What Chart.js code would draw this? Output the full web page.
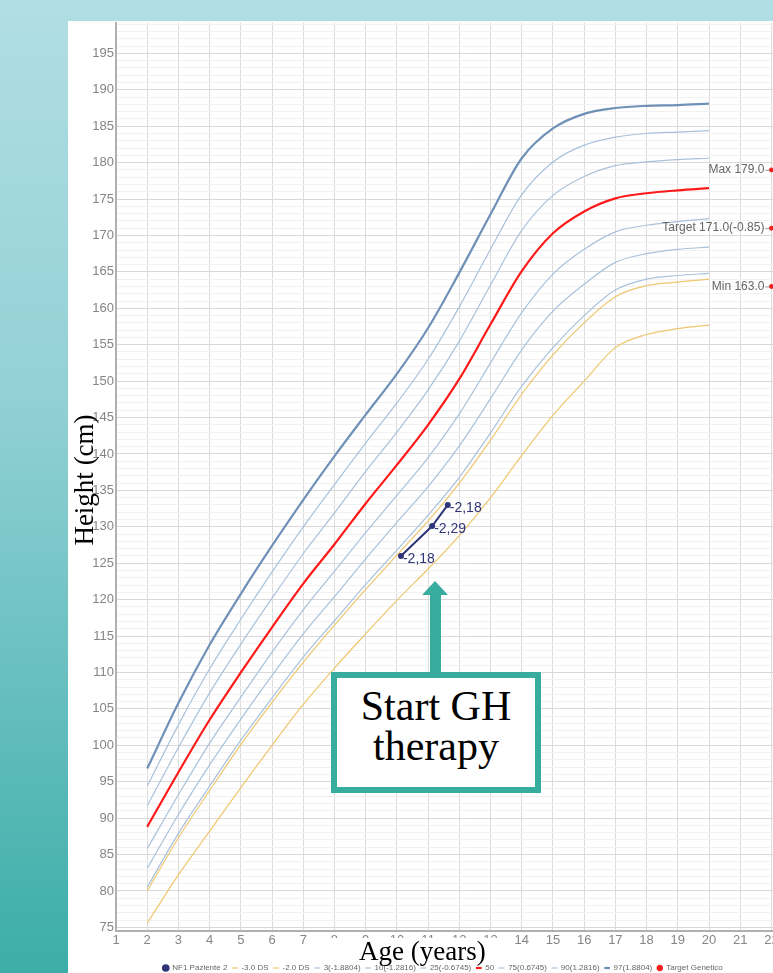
<!DOCTYPE html>
<html>
<head>
<meta charset="utf-8">
<script src="https://cdn.jsdelivr.net/npm/chart.js@4.4.1/dist/chart.umd.min.js"></script>
<style>
  html, body { margin: 0; padding: 0; width: 773px; height: 973px; overflow: hidden; }
  body {
    position: relative;
    background: linear-gradient(to bottom, #b1dee4 0%, #93d1d6 40%, #3cada7 100%);
    font-family: "Liberation Sans", Arial, sans-serif;
  }
  #panel { position: absolute; left: 68px; top: 21px; width: 720px; height: 970px; background: #fff; }
  #wrap { position: absolute; left: 68px; top: 14px; }
  .serif { position: absolute; font-family: "Liberation Serif", "Times New Roman", serif; color: #000; }
  #ytitle {
    left: -16px; top: 465px; width: 200px; height: 30px; line-height: 30px;
    font-size: 27px; text-align: center; transform: rotate(-90deg);
  }
  #xtitle {
    left: 330px; top: 938px; width: 172px; height: 23px; background: #fff;
    font-size: 27px; line-height: 26px; text-indent: 29px; white-space: nowrap;
  }
  #gh {
    left: 331px; top: 672px; width: 198px; height: 101px;
    border: 6px solid #38ad9f; background: #fff;
    font-size: 42px; line-height: 40px; text-align: center; padding-top: 8px;
  }
  #shaft { position: absolute; left: 430px; top: 594px; width: 11px; height: 80px; background: #38ad9f; }
  #head {
    position: absolute; left: 422px; top: 581px; width: 0; height: 0;
    border-left: 13.5px solid transparent; border-right: 13.5px solid transparent;
    border-bottom: 14px solid #38ad9f;
  }
</style>
</head>
<body>
<div id="panel"></div>
<div id="wrap"><canvas id="growth"></canvas></div>
<div class="serif" id="ytitle">Height (cm)</div>
<div class="serif" id="xtitle">Age (years)</div>
<div id="shaft"></div>
<div id="head"></div>
<div class="serif" id="gh">Start GH<br>therapy</div>

<script>
// ages of the reference curves (years)
const ages = [2, 3, 4, 5, 6, 7, 8, 9, 10, 11, 12, 13, 14, 15, 16, 17, 18, 19, 20];

// height percentiles (cm)
const p97 = [96.8, 105.8, 113.8, 120.8, 127.4, 133.7, 139.7, 145.4, 151.0, 157.3, 164.9, 172.9, 180.6, 184.7, 186.7, 187.5, 187.8, 187.9, 188.1];
const p90 = [94.4, 102.8, 110.5, 117.3, 123.8, 130.0, 135.8, 141.5, 147.0, 153.0, 160.2, 168.1, 175.6, 180.1, 182.4, 183.5, 184.0, 184.2, 184.4];
const p75 = [91.7, 99.7, 107.2, 113.9, 120.2, 126.3, 131.9, 137.6, 143.0, 148.8, 155.5, 163.2, 170.7, 175.5, 178.1, 179.6, 180.1, 180.4, 180.6];
const p50 = [88.8, 96.3, 103.5, 110.0, 116.2, 122.2, 127.6, 133.2, 138.5, 144.0, 150.3, 157.8, 165.1, 170.3, 173.3, 175.1, 175.8, 176.2, 176.5];
const p25 = [85.8, 93.2, 100.3, 106.6, 112.8, 118.6, 123.9, 129.2, 134.3, 139.5, 145.5, 152.5, 159.4, 164.7, 168.1, 170.5, 171.4, 171.9, 172.3];
const p10 = [83.1, 90.5, 97.3, 103.6, 109.6, 115.3, 120.4, 125.6, 130.6, 135.5, 141.1, 147.6, 154.3, 159.6, 163.3, 166.3, 167.5, 168.1, 168.4];
const p3  = [80.5, 87.9, 94.4, 100.7, 106.5, 112.1, 117.1, 122.1, 126.8, 131.6, 136.8, 142.9, 149.3, 154.6, 159.0, 162.5, 164.0, 164.5, 164.8];
const sdMinus2 = [80.0, 87.3, 93.8, 100.1, 105.9, 111.4, 116.5, 121.4, 126.1, 130.8, 136.0, 141.9, 148.2, 153.6, 158.0, 161.6, 163.1, 163.6, 164.0];
const sdMinus3 = [75.6, 82.2, 88.2, 94.2, 100.0, 105.6, 110.6, 115.3, 119.9, 124.2, 128.8, 134.0, 139.8, 145.3, 150.0, 154.6, 156.4, 157.2, 157.7];

// patient
const patientAges = [10.13, 11.13, 11.63];
const patientHeights = [126.0, 130.1, 133.0];
const patientSds = ["-2,18", "-2,29", "-2,18"];

// genetic target
const targetAge = 22;
const targetHeights = [179.0, 171.0, 163.0];
const targetLabels = ["Max 179.0", "Target 171.0(-0.85)", "Min 163.0"];

const xTicks = [1, 2, 3, 4, 5, 6, 7, 8, 9, 10, 11, 12, 13, 14, 15, 16, 17, 18, 19, 20, 21, 22, 23];
const X_MIN = 1, X_MAX = 23.3;
const Y_MIN = 74.5, Y_MAX = 199.2;
const yMajorStep = 5;

const BLUE = '#a9c1da';
const YELLOW = '#efc66e';
const FONT = '"Liberation Sans", Arial, sans-serif';

const pts = (xs, ys) => ys.map((y, i) => ({ x: xs[i], y: y }));

function curve(label, values, color, width) {
  return {
    label: label,
    data: pts(ages, values),
    borderColor: color,
    backgroundColor: color,
    borderWidth: width,
    pointRadius: 0,
    pointHoverRadius: 0,
    pointStyle: 'line',
    cubicInterpolationMode: 'monotone',
    fill: false
  };
}

const pointLabels = {
  id: 'pointLabels',
  afterDatasetsDraw(chart) {
    const ctx = chart.ctx;
    chart.data.datasets.forEach((ds, i) => {
      if (!ds.pointLabels) return;
      chart.getDatasetMeta(i).data.forEach((pt, j) => {
        ctx.save();
        ctx.font = ds.labelFont;
        ctx.fillStyle = ds.labelColor;
        ctx.textBaseline = 'middle';
        if (ds.labelSide === 'left') {
          ctx.textAlign = 'right';
          ctx.fillText(ds.pointLabels[j], pt.x - 7, pt.y);
          ctx.strokeStyle = '#999';
          ctx.lineWidth = 1;
          ctx.beginPath();
          ctx.moveTo(pt.x - 6, pt.y + 0.5);
          ctx.lineTo(pt.x - 2, pt.y + 0.5);
          ctx.stroke();
        } else {
          ctx.textAlign = 'left';
          ctx.fillText(ds.pointLabels[j], pt.x + 2, pt.y + 3);
        }
        ctx.restore();
      });
    });
  }
};

function makeConfig() {
  const datasets = [
    {
      label: 'NF1 Paziente 2',
      data: pts(patientAges, patientHeights),
      borderColor: '#2f3578',
      backgroundColor: '#2f3578',
      borderWidth: 2,
      pointRadius: 2,
      pointStyle: 'circle',
      pointLabels: patientSds,
      labelSide: 'right',
      labelFont: '14px ' + FONT,
      labelColor: '#2f3578'
    },
    curve('-3.0 DS', sdMinus3, YELLOW, 1.2),
    curve('-2.0 DS', sdMinus2, YELLOW, 1.2),
    curve('3(-1.8804)', p3, BLUE, 1.2),
    curve('10(-1.2816)', p10, BLUE, 1.2),
    curve('25(-0.6745)', p25, BLUE, 1.2),
    curve('50', p50, '#ff1a1a', 2.2),
    curve('75(0.6745)', p75, BLUE, 1.2),
    curve('90(1.2816)', p90, BLUE, 1.2),
    curve('97(1.8804)', p97, '#7091b7', 2.2),
    {
      label: 'Target Genetico',
      data: targetHeights.map(h => ({ x: targetAge, y: h })),
      showLine: false,
      borderColor: '#f21d1d',
      backgroundColor: '#f21d1d',
      pointRadius: 2,
      pointStyle: 'circle',
      pointLabels: targetLabels,
      labelSide: 'left',
      labelFont: '12px ' + FONT,
      labelColor: '#666'
    }
  ];

  return {
    type: 'line',
    data: { datasets: datasets },
    plugins: [pointLabels],
    options: {
      responsive: false,
      animation: false,
      devicePixelRatio: 1,
      layout: { padding: 0 },
      plugins: {
        tooltip: { enabled: false },
        legend: {
          position: 'bottom',
          labels: {
            usePointStyle: true,
            boxWidth: 5,
            boxHeight: 4,
            padding: 5,
            color: '#666',
            font: { size: 8, family: FONT }
          }
        }
      },
      scales: {
        x: {
          type: 'linear',
          min: X_MIN,
          max: X_MAX,
          afterBuildTicks: s => { s.ticks = xTicks.map(v => ({ value: v })); },
          afterFit: s => { s.height = 28; },
          grid: { color: '#dcdcdc', lineWidth: 1, drawTicks: false },
          border: { color: '#b0b0b0', width: 2 },
          ticks: {
            padding: 2,
            color: '#858585',
            font: { size: 13, family: FONT },
            maxRotation: 0,
            autoSkip: false
          }
        },
        y: {
          type: 'linear',
          min: Y_MIN,
          max: Y_MAX,
          afterBuildTicks: s => {
            const t = [];
            for (let v = 75; v <= 199; v++) t.push({ value: v });
            s.ticks = t;
          },
          afterFit: s => { s.width = 48; },
          grid: {
            drawTicks: false,
            lineWidth: 1,
            color: c => (c.tick && c.tick.value % yMajorStep === 0) ? '#d9d9d9' : '#f1f1f1'
          },
          border: { color: '#b0b0b0', width: 2 },
          ticks: {
            padding: 2,
            autoSkip: false,
            color: '#858585',
            font: { size: 13, family: FONT },
            callback: v => (v % yMajorStep === 0 ? String(v) : '')
          }
        }
      }
    }
  };
}

// plot area position in the page (1 year = 31.19 px, 1 cm = 7.287 px)
const AREA = { left: 116, top: 22.7, right: 116 + (X_MAX - X_MIN) * 31.19, bottom: 931 };

const canvas = document.getElementById('growth');
canvas.width = 760;
canvas.height = 980;
let chart = new Chart(canvas, makeConfig());
const a = chart.chartArea;
const W = Math.round(canvas.width + (AREA.right - AREA.left) - (a.right - a.left));
const H = Math.round(canvas.height + (AREA.bottom - AREA.top) - (a.bottom - a.top));
chart.destroy();
canvas.width = W;
canvas.height = H;
chart = new Chart(canvas, makeConfig());
const b = chart.chartArea;
const wrap = document.getElementById('wrap');
wrap.style.left = (AREA.left - b.left) + 'px';
wrap.style.top = (AREA.top - b.top) + 'px';
</script>
</body>
</html>
